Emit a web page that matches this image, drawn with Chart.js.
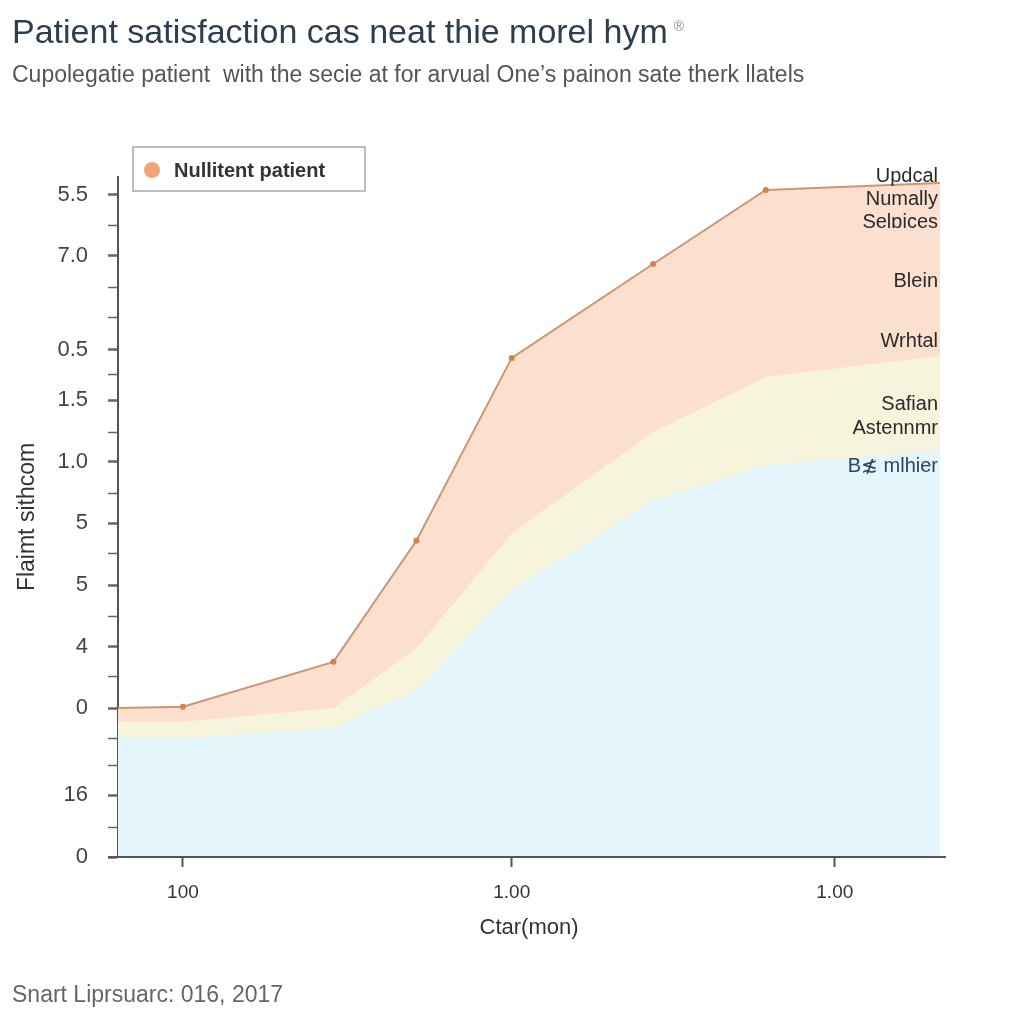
<!DOCTYPE html>
<html>
<head>
<meta charset="utf-8">
<script src="https://cdn.jsdelivr.net/npm/chart.js@4"></script>
<style>
  html, body { margin: 0; padding: 0; background: #fff; }
  #wrap { width: 1024px; height: 1024px; }
</style>
</head>
<body>
<div id="wrap"><canvas id="chart" width="1024" height="1024"></canvas></div>
<script>
// x positions of the samples (linear axis 0..100)
const xValues = [0, 7.9, 26.2, 36.3, 47.9, 65.1, 78.8, 100];
// cumulative boundaries of the three layers
const upperSeries = [21.9, 22.1, 28.7, 46.5, 73.4, 87.2, 98.1, 99.1];
const middleSeries = [19.9, 19.9, 21.9, 30.7, 47.6, 62.5, 70.6, 73.7];
const lowerSeries = [17.5, 17.5, 19.0, 24.6, 39.3, 52.5, 57.6, 59.9];

const yTickValues = [97.4, 88.4, 74.6, 67.2, 58.1, 49.1, 40.0, 30.9, 21.9, 9.1, 0];
const yTickLabels = ['5.5', '7.0', '0.5', '1.5', '1.0', '5', '5', '4', '0', '16', '0'];
const yMinorTicks = [92.9, 83.8, 79.4, 70.9, 62.5, 53.5, 44.7, 35.4, 26.5, 17.4, 13.5, 4.4];

const xTickValues = [7.9, 47.9, 87.2];
const xTickLabels = ['100', '1.00', '1.00'];

const sideLabels = ['Updcal', 'Numally', 'Selɒices', 'Blein', 'Wrhtal', 'Safian', 'Astennmr', 'B≴ mlhier'];
const sideLabelY = [176, 199, 222, 281, 341, 404, 428, 466];

const FONT = '"Liberation Sans", Arial, sans-serif';

const toPoints = arr => arr.map((v, i) => ({ x: xValues[i], y: v }));

const extras = {
  id: 'extras',
  afterDraw(chart) {
    const ctx = chart.ctx;
    ctx.save();
    // title + subtitle
    ctx.textBaseline = 'middle';
    ctx.textAlign = 'left';
    ctx.fillStyle = '#2c3e50';
    ctx.font = '34px ' + FONT;
    const title = 'Patient satisfaction cas neat thie morel hym';
    ctx.fillText(title, 12, 34);
    const tw = ctx.measureText(title).width;
    ctx.font = '14px ' + FONT;
    ctx.fillStyle = '#888';
    ctx.fillText('®', 12 + tw + 6, 27);
    ctx.font = '23px ' + FONT;
    ctx.fillStyle = '#555';
    ctx.fillText('Cupolegatie patient  with the secie at for arvual One’s painon sate therk llatels', 12, 76);

    // footer
    ctx.font = '23px ' + FONT;
    ctx.fillStyle = '#666';
    ctx.fillText('Snart Liprsuarc: 016, 2017', 12, 996);

    // legend box
    ctx.fillStyle = '#fff';
    ctx.fillRect(133, 147, 232, 44);
    ctx.strokeStyle = '#a8a8a8';
    ctx.lineWidth = 1.5;
    ctx.strokeRect(133, 147, 232, 44);
    ctx.beginPath();
    ctx.arc(152, 170, 8, 0, Math.PI * 2);
    ctx.fillStyle = '#f2a477';
    ctx.fill();
    ctx.fillStyle = '#333';
    ctx.font = 'bold 20px ' + FONT;
    ctx.fillText('Nullitent patient', 174, 171);

    // side labels
    ctx.textAlign = 'right';
    ctx.font = '20px ' + FONT;
    sideLabels.forEach((t, i) => {
      ctx.fillStyle = i === sideLabels.length - 1 ? '#2b4560' : '#2a2a2a';
      ctx.fillText(t, 938, sideLabelY[i]);
    });

    // x axis line runs a bit past the plot
    const a = chart.chartArea;
    ctx.strokeStyle = '#555';
    ctx.lineWidth = 2;
    ctx.beginPath();
    ctx.moveTo(a.left - 10, a.bottom);
    ctx.lineTo(a.right + 6, a.bottom);
    ctx.stroke();
    ctx.restore();
  }
};

new Chart(document.getElementById('chart'), {
  type: 'line',
  data: {
    datasets: [
      {
        label: 'Bs mlhier',
        data: toPoints(lowerSeries),
        backgroundColor: '#e4f6fc',
        borderWidth: 0,
        pointRadius: 0,
        fill: 'origin'
      },
      {
        label: 'Safian',
        data: toPoints(middleSeries),
        backgroundColor: '#f6f4dc',
        borderWidth: 0,
        pointRadius: 0,
        fill: 'origin'
      },
      {
        label: 'Nullitent patient',
        data: toPoints(upperSeries),
        backgroundColor: '#fbdfcf',
        borderColor: '#cf9570',
        borderWidth: 2,
        pointRadius: [0, 3, 3, 3, 3, 3, 3, 0],
        pointBackgroundColor: '#d9804a',
        pointBorderWidth: 0,
        fill: 'origin'
      }
    ]
  },
  options: {
    responsive: false,
    animation: false,
    layout: { padding: { top: 177, right: 84, bottom: 60, left: 0 } },
    plugins: {
      legend: { display: false },
      tooltip: { enabled: false }
    },
    scales: {
      x: {
        type: 'linear',
        min: 0,
        max: 100,
        afterFit: s => { s.height = 107; },
        afterBuildTicks: s => { s.ticks = xTickValues.map(v => ({ value: v })); },
        border: { display: false },
        grid: { drawOnChartArea: false, tickLength: 10, tickColor: '#555', tickWidth: 2 },
        ticks: {
          autoSkip: false,
          padding: 14,
          color: '#333',
          font: { family: FONT, size: 19 },
          callback: (v, i) => xTickLabels[i]
        },
        title: {
          display: true,
          text: 'Ctar(mon)',
          color: '#333',
          font: { family: FONT, size: 22 },
          padding: { top: 0, bottom: 23 }
        }
      },
      y: {
        min: 0,
        max: 100,
        afterFit: s => { s.width = 118; },
        afterBuildTicks: s => {
          s.ticks = yTickValues.map(v => ({ value: v, major: true }))
            .concat(yMinorTicks.map(v => ({ value: v, major: false })));
        },
        border: { display: true, color: '#555', width: 2 },
        grid: {
          drawOnChartArea: false,
          tickLength: 10,
          tickColor: '#666',
          tickWidth: c => (c.tick && c.tick.major ? 2.5 : 1.5)
        },
        ticks: {
          autoSkip: false,
          padding: 20,
          color: '#444',
          font: { family: FONT, size: 22 },
          callback: (v, i) => (i < yTickLabels.length ? yTickLabels[i] : '')
        },
        title: {
          display: true,
          text: 'Flaimt sithcom',
          color: '#333',
          font: { family: FONT, size: 23 },
          padding: { top: 14, bottom: 0 }
        }
      }
    }
  },
  plugins: [extras]
});
</script>
</body>
</html>
